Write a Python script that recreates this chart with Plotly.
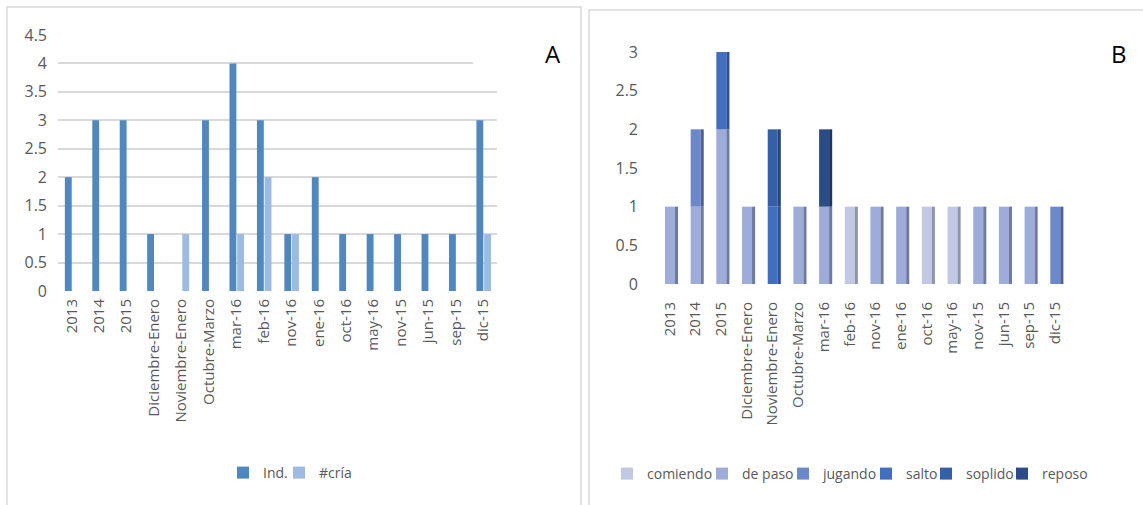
import plotly.graph_objects as go
import numpy as np

W, H = 1143, 505

categories = ["2013", "2014", "2015", "Diciembre-Enero", "Noviembre-Enero", "Octubre-Marzo",
              "mar-16", "feb-16", "nov-16", "ene-16", "oct-16", "may-16", "nov-15",
              "jun-15", "sep-15", "dic-15"]

# Panel A
ind = [2, 3, 3, 1, 0, 3, 4, 3, 1, 2, 1, 1, 1, 1, 1, 3]
cria = [0, 0, 0, 0, 1, 0, 1, 2, 1, 0, 0, 0, 0, 0, 0, 1]

# Panel B (stack order bottom -> top)
comiendo = [0, 0, 0, 0, 0, 0, 0, 1, 0, 0, 1, 1, 0, 0, 0, 0]
de_paso  = [1, 1, 2, 1, 0, 1, 1, 0, 1, 1, 0, 0, 1, 1, 1, 0]
jugando  = [0, 1, 0, 0, 0, 0, 0, 0, 0, 0, 0, 0, 0, 0, 0, 1]
salto    = [0, 0, 1, 0, 1, 0, 0, 0, 0, 0, 0, 0, 0, 0, 0, 0]
soplido  = [0, 0, 0, 0, 1, 0, 0, 0, 0, 0, 0, 0, 0, 0, 0, 0]
reposo   = [0, 0, 0, 0, 0, 0, 1, 0, 0, 0, 0, 0, 0, 0, 0, 0]

series_b = [("comiendo", comiendo), ("de paso", de_paso), ("jugando", jugando),
            ("salto", salto), ("soplido", soplido), ("reposo", reposo)]
front_cols = ["#c0c8e4", "#9dacd9", "#6c88cb", "#416ebe", "#355fa6", "#2b4b89"]
side_cols = ["#8d94ab", "#6e7aa3", "#4d6196", "#2f518f", "#264679", "#1e3664"]

FONT = "Open Sans"
GRAY = "#595959"
GRID = "#d9d9d9"


def px(x):
    return x / W


def py(y):
    return (H - y) / H


# legend swatch left edges (px) as in the reference
leg_a_x = [244, 300]
leg_b_x = [628, 723, 804, 887, 947, 1023]

fig = go.Figure()

# ---- Panel A ----
fig.add_trace(go.Bar(x=categories, y=ind, name="Ind.", marker_color="#4f87be",
                     marker_line_width=0, width=0.25, offset=-0.25,
                     xaxis="x", yaxis="y", legend="legend"))
fig.add_trace(go.Bar(x=categories, y=cria, name="#cría", marker_color="#9dbbe0",
                     marker_line_width=0, width=0.25, offset=0.03,
                     xaxis="x", yaxis="y", legend="legend2"))

# ---- Panel B ----
base = np.zeros(len(categories))
for i, ((name, vals), fc, sc) in enumerate(zip(series_b, front_cols, side_cols)):
    v = np.array(vals, dtype=float)
    fig.add_trace(go.Bar(x=categories, y=v, base=base.copy(), name=name,
                         marker_color=fc, marker_line_width=0,
                         width=0.39, offset=-0.19,
                         xaxis="x2", yaxis="y2", legend=f"legend{i + 3}"))
    fig.add_trace(go.Bar(x=categories, y=v, base=base.copy(), name=name,
                         marker_color=sc, marker_line_width=0,
                         width=0.12, offset=0.2, showlegend=False, hoverinfo="skip",
                         xaxis="x2", yaxis="y2"))
    base = base + v

xtickfont = dict(family=FONT, size=15, color=GRAY)
ytickfont = dict(family=FONT, size=16, color=GRAY)

fig.update_layout(
    width=W, height=H,
    margin=dict(l=0, r=0, t=0, b=0, autoexpand=False),
    paper_bgcolor="white", plot_bgcolor="rgba(0,0,0,0)",
    barmode="overlay",
    font=dict(family=FONT, color=GRAY),
    xaxis=dict(domain=[px(58), px(497)], anchor="y", tickangle=-90,
               tickfont=xtickfont, showgrid=False, zeroline=False, showline=False,
               ticks="", ticklabelstandoff=4, automargin=False),
    yaxis=dict(domain=[py(291), py(35)], anchor="x", range=[0, 4.5], dtick=0.5,
               tickfont=ytickfont, showgrid=True, gridcolor=GRID, gridwidth=1.5,
               zeroline=False, showline=False, ticks="", ticklabelstandoff=10,
               automargin=False),
    xaxis2=dict(domain=[px(657), px(1068)], anchor="y2", tickangle=-90,
                tickfont=xtickfont, showgrid=False, zeroline=False, showline=False,
                ticks="", ticklabelstandoff=14, automargin=False),
    yaxis2=dict(domain=[py(284), py(52)], anchor="x2", range=[0, 3], dtick=0.5,
                tickfont=ytickfont, showgrid=False, zeroline=False, showline=False,
                ticks="", ticklabelstandoff=18, automargin=False),
    xaxis3=dict(domain=[px(662), px(1076)], anchor="y3", range=[0, 1],
                visible=False, showgrid=False, zeroline=False, automargin=False),
    yaxis3=dict(domain=[py(279), py(47)], anchor="x3", range=[0, 3], dtick=0.5,
                showgrid=True, gridcolor=GRID, gridwidth=1.5, zeroline=False,
                showticklabels=False, ticks="", showline=False, automargin=False),
    showlegend=True,
)

leg_common = dict(orientation="h", yanchor="middle", xanchor="left",
                  font=dict(family=FONT, size=14, color=GRAY),
                  bgcolor="rgba(0,0,0,0)", itemwidth=30, borderwidth=0)
for i, xs in enumerate(leg_a_x + leg_b_x):
    key = "legend" if i == 0 else f"legend{i + 1}"
    yc = 473 if i < 2 else 474
    fig.update_layout({key: dict(leg_common, x=px(xs - 21), y=py(yc))})

# panel borders and label boxes
shapes = [
    dict(type="rect", xref="paper", yref="paper", x0=px(7), x1=px(581), y0=py(520), y1=py(7),
         line=dict(color=GRID, width=1.5), fillcolor="rgba(0,0,0,0)", layer="below"),
    dict(type="rect", xref="paper", yref="paper", x0=px(589), x1=px(1160), y0=py(520), y1=py(10),
         line=dict(color=GRID, width=1.5), fillcolor="rgba(0,0,0,0)", layer="below"),
    dict(type="rect", xref="paper", yref="paper", x0=px(473), x1=px(560), y0=py(68), y1=py(28),
         line=dict(width=0), fillcolor="white", layer="above"),
    dict(type="rect", xref="paper", yref="paper", x0=px(1058), x1=px(1135), y0=py(70), y1=py(30),
         line=dict(width=0), fillcolor="white", layer="above"),
]
fig.update_layout(shapes=shapes)

fig.add_annotation(text="A", xref="paper", yref="paper", x=px(553), y=py(54),
                   xanchor="center", yanchor="middle", showarrow=False,
                   font=dict(family=FONT, size=24, color="black"))
fig.add_annotation(text="B", xref="paper", yref="paper", x=px(1119), y=py(54),
                   xanchor="center", yanchor="middle", showarrow=False,
                   font=dict(family=FONT, size=24, color="black"))

fig.write_html("out.html")
